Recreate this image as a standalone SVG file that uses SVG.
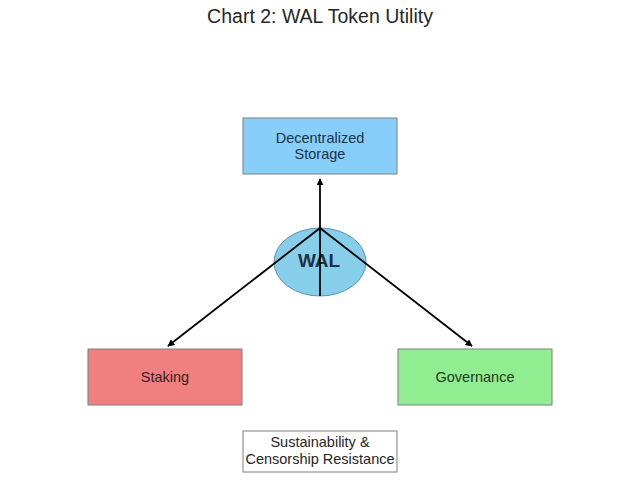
<svg xmlns="http://www.w3.org/2000/svg" width="640" height="503" viewBox="0 0 640 503">
<defs>
<style>
text{font-family:"Liberation Sans",Arial,sans-serif;text-anchor:middle}
.box{stroke:#7f7f7f;stroke-width:1}
.lbl{font-size:14.5px}
.conn{stroke:#000;stroke-width:1.8;fill:none}
</style>
<marker id="ah" viewBox="0 0 10 10" refX="9" refY="5" markerWidth="7" markerHeight="7" orient="auto" markerUnits="userSpaceOnUse">
<path d="M0,0 L10,5 L0,10 z" fill="#000"/>
</marker>
</defs>
<rect width="640" height="503" fill="#fff"/>
<text x="320" y="23" font-size="19.5" fill="#262626">Chart 2: WAL Token Utility</text>
<g id="storage">
<rect class="box" x="243" y="118" width="154" height="56" fill="#87CEFA"/>
<text class="lbl" x="320" y="143" fill="#1c3346">Decentralized</text>
<text class="lbl" x="320" y="159" fill="#1c3346">Storage</text>
</g>
<g id="wal">
<ellipse cx="320" cy="262" rx="46" ry="34" fill="#87CEEB" stroke="#5d93b3" stroke-width="1"/>
<text x="319" y="267" font-size="19" font-weight="bold" fill="#1b3044">WAL</text>
</g>
<g id="staking">
<rect class="box" x="88" y="349" width="154" height="56" fill="#F08080"/>
<text class="lbl" x="165" y="382" fill="#3c1b1b">Staking</text>
</g>
<g id="governance">
<rect class="box" x="398" y="349" width="154" height="56" fill="#90EE90"/>
<text class="lbl" x="475" y="382" fill="#1e3a1e">Governance</text>
</g>
<g id="sustainability">
<rect class="box" x="243" y="431" width="154" height="41" fill="#fff" stroke="#999"/>
<text class="lbl" x="320" y="447" fill="#262626">Sustainability &amp;</text>
<text class="lbl" x="320" y="464" fill="#262626">Censorship Resistance</text>
</g>
<g id="connectors">
<line class="conn" x1="320" y1="296" x2="320" y2="179" marker-end="url(#ah)" stroke-width="2"/>
<line class="conn" x1="320" y1="228" x2="168" y2="346" marker-end="url(#ah)"/>
<line class="conn" x1="320" y1="228" x2="472" y2="346" marker-end="url(#ah)"/>
</g>
</svg>
